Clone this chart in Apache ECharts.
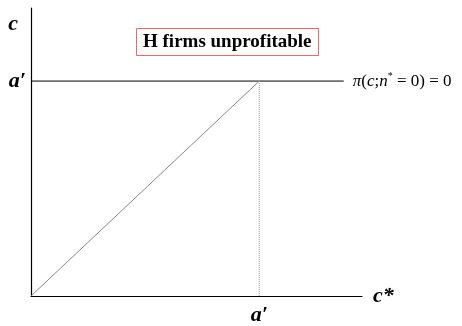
<!DOCTYPE html>
<html>
<head>
<meta charset="utf-8">
<style>
  html, body { margin: 0; padding: 0; background: #fff; }
  #chart { width: 462px; height: 326px; }
</style>
<script src="https://cdn.jsdelivr.net/npm/echarts@6/dist/echarts.min.js"></script>
</head>
<body>
<div id="chart"></div>
<script>
// Threshold cost a' and the axis extents (in units of a')
const aPrime = 1;
const xMax = 1.45;
const yMax = 1.34;
const lineEnd = 1.37;

// Zero-profit line pi(c; n* = 0) = 0 at c = a'
const zeroProfit = [[0, aPrime], [lineEnd, aPrime]];
// Diagonal c = c*
const diagonal = [[0, 0], [aPrime, aPrime]];
// Drop line from the corner down to c* = a'
const dropLine = [[aPrime, 0], [aPrime, aPrime]];

const tickLabels = ["a\u2032"];
const regionText = "H firms unprofitable";

const serif = "'Liberation Serif', 'Times New Roman', serif";
const labelFont = { fontFamily: serif, fontStyle: 'italic', fontWeight: 'bold', fontSize: 22, color: '#000' };
const chart = echarts.init(document.getElementById('chart'), null, { renderer: 'canvas' });

chart.setOption({
  animation: false,
  backgroundColor: '#fff',
  title: {
    text: regionText,
    left: 136,
    top: 28,
    padding: [5, 7, 4, 7],
    borderColor: '#e86a6a',
    borderWidth: 1,
    backgroundColor: '#fff',
    textStyle: { fontFamily: serif, fontWeight: 'bold', fontSize: 19, color: '#000' }
  },
  grid: { left: 31, right: 100, top: 8, bottom: 28, containLabel: false },
  xAxis: {
    type: 'value', min: 0, max: xMax,
    name: 'c*', nameLocation: 'end', nameGap: 11,
    nameTextStyle: Object.assign({ verticalAlign: 'middle', align: 'left' }, labelFont),
    axisLine: { lineStyle: { color: '#000', width: 1.2 } },
    axisTick: { show: false },
    splitLine: { show: false },
    axisLabel: Object.assign({
      customValues: [aPrime], margin: 8,
      formatter: () => tickLabels[0]
    }, labelFont)
  },
  yAxis: {
    type: 'value', min: 0, max: yMax,
    name: 'c', nameLocation: 'end', nameGap: -16,
    nameTextStyle: Object.assign({ verticalAlign: 'middle', align: 'right', padding: [0, 13, 0, 0] }, labelFont),
    axisLine: { show: true, lineStyle: { color: '#000', width: 1.2 } },
    axisTick: { show: false },
    splitLine: { show: false },
    axisLabel: Object.assign({
      customValues: [aPrime], margin: 5,
      formatter: () => tickLabels[0]
    }, labelFont)
  },
  series: [
    {
      type: 'line', data: zeroProfit, symbol: 'none', silent: true,
      lineStyle: { color: '#000', width: 1 },
      endLabel: {
        show: true, distance: 9,
        formatter: '{i|\u03c0}{n|(}{i|c}{n|;}{i|n}{s|*}{n| = 0) = 0}',
        rich: {
          i: { fontFamily: serif, fontStyle: 'italic', fontSize: 17, color: '#000' },
          n: { fontFamily: serif, fontSize: 17, color: '#000' },
          s: { fontFamily: serif, fontSize: 10, color: '#000', verticalAlign: 'top', padding: [0, 0, 9, 0] }
        }
      }
    },
    {
      type: 'line', data: diagonal, symbol: 'none', silent: true,
      lineStyle: { color: '#888', width: 1 }
    },
    {
      type: 'line', data: dropLine, symbol: 'none', silent: true,
      lineStyle: { color: '#999', width: 1, type: 'dotted' }
    }
  ]
});
</script>
</body>
</html>
